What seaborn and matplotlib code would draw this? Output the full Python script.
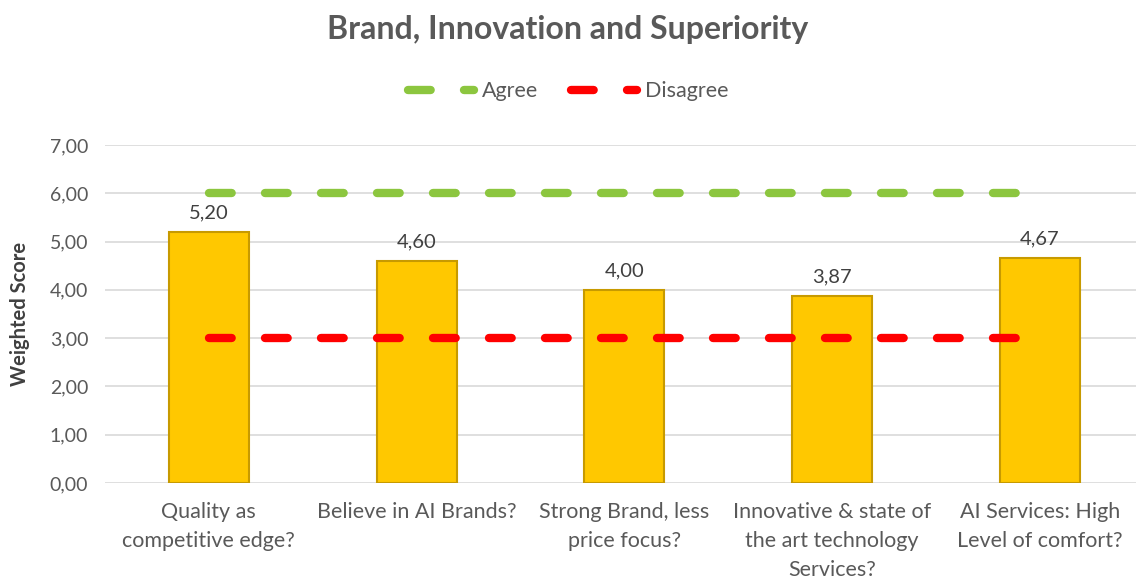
import matplotlib
matplotlib.use("Agg")
import matplotlib.pyplot as plt
import seaborn as sns
import pandas as pd
from matplotlib.lines import Line2D

categories = ["Quality as\ncompetitive edge?", "Believe in AI Brands?",
              "Strong Brand, less\nprice focus?",
              "Innovative & state of\nthe art technology\nServices?",
              "AI Services: High\nLevel of comfort?"]
scores = [5.20, 4.60, 4.00, 3.87, 4.67]
agree = [6, 6, 6, 6, 6]
disagree = [3, 3, 3, 3, 3]
yticks = [0, 1, 2, 3, 4, 5, 6, 7]

sns.set_theme(style="white")
plt.rcParams['font.family'] = ['Lato', 'DejaVu Sans']

fig = plt.figure(figsize=(11.36, 5.81), dpi=100)
ax = fig.add_axes([0.0924, 0.1687, 0.9076, 0.5817])

df = pd.DataFrame({"cat": categories, "score": scores, "agree": agree, "disagree": disagree})

for y in yticks:
    ax.axhline(y, color="#D9D9D9", lw=1.2, zorder=0)

sns.barplot(data=df, x="cat", y="score", ax=ax, color="#FFC800", width=0.385,
            edgecolor="#C79A00", linewidth=1.5, saturation=1, zorder=2)

DASH = (2.72, 4.0)
sns.lineplot(data=df, x="cat", y="agree", ax=ax, color="#8CC63F", lw=6, sort=False,
             dashes=False, zorder=3)
sns.lineplot(data=df, x="cat", y="disagree", ax=ax, color="#FF0000", lw=6, sort=False,
             dashes=False, zorder=3)
for ln in ax.lines[-2:]:
    ln.set_dashes(DASH)
    ln.set_dash_capstyle("round")

for i, v in enumerate(scores):
    ax.text(i, v + 0.22, f"{v:.2f}".replace(".", ","), ha="center", va="bottom",
            fontsize=14.5, color="#404040")

ax.set_ylim(0, 7)
ax.set_xlim(-0.5, 4.463)
ax.set_yticks(yticks)
ax.set_yticklabels([f"{t:.2f}".replace(".", ",") for t in yticks], fontsize=14, color="#595959")
ax.set_xticks(range(len(categories)))
ax.set_xticklabels(categories, fontsize=15.5, color="#595959", linespacing=1.55)
ax.tick_params(axis="x", length=0, pad=14)
ax.tick_params(axis="y", length=0, pad=12)
ax.set_xlabel("")
ax.set_ylabel("Weighted Score", fontsize=14.5, fontweight="bold", color="#404040",
              va="center")
ax.yaxis.set_label_coords(-0.082, 0.5)
for s in ax.spines.values():
    s.set_visible(False)

handles = [Line2D([], [], color="#8CC63F", lw=6, dashes=DASH, dash_capstyle="round"),
           Line2D([], [], color="#FF0000", lw=6, dashes=DASH, dash_capstyle="round")]
fig.legend(handles, ["Agree", "Disagree"], loc="center", bbox_to_anchor=(0.5, 0.843),
           ncol=2, frameon=False, fontsize=15.5, labelcolor="#595959", handlelength=3.1,
           handletextpad=0.35, columnspacing=1.5)

fig.text(0.5, 0.95, "Brand, Innovation and Superiority", ha="center", va="center",
         fontsize=23, fontweight="bold", color="#595959")

fig.savefig("out.png", dpi=100)
